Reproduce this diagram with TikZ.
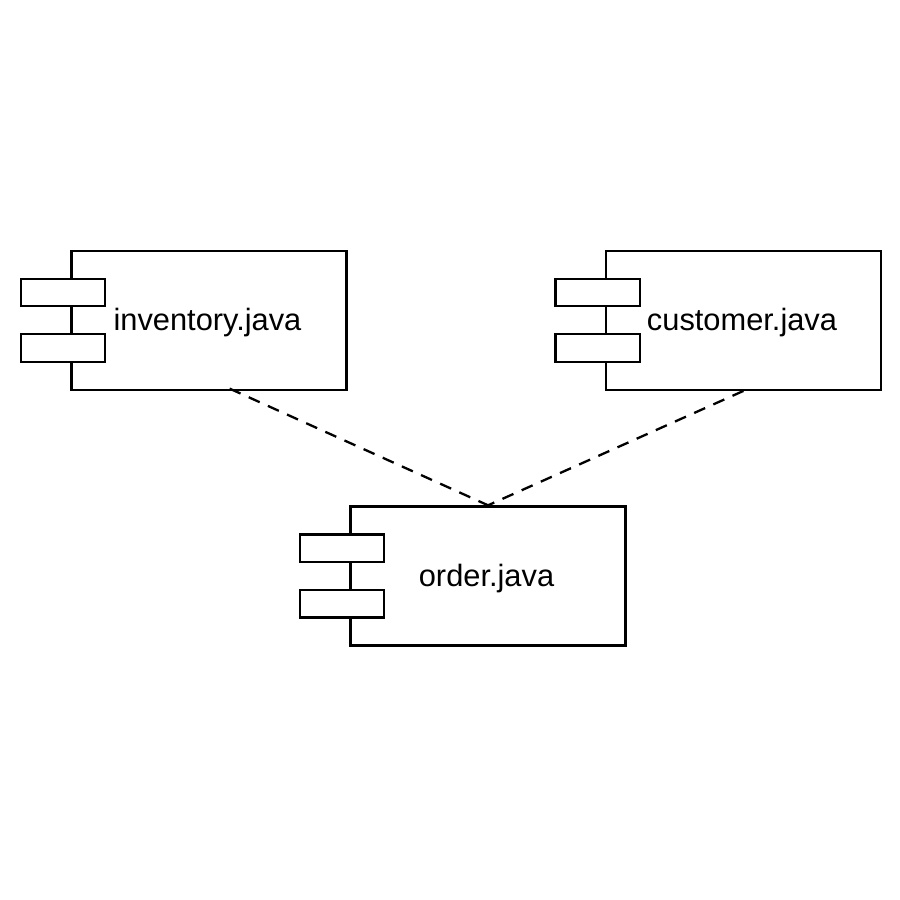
\documentclass[tikz,border=0pt]{standalone}
\usepackage{fontspec}
\setmainfont{Liberation Sans}
\newcommand{\px}{0.03514cm}
\tikzset{
  x=\px,y=-\px,
  comp/.style={draw=black,line width=2.3pt,fill=white,minimum width=275*\px,minimum height=139*\px,inner sep=0pt,anchor=north west},
  tab/.style={draw=black,line width=2.3pt,fill=white,minimum width=84.5*\px,minimum height=27.5*\px,inner sep=0pt,anchor=north west},
  lbl/.style={font=\fontsize{30.8}{34}\selectfont,inner sep=0pt,anchor=base,text=black},
  dep/.style={draw=black,line width=2.3pt,dash pattern=on 12pt off 9pt}
}
\begin{document}
\begin{tikzpicture}
\useasboundingbox (0,0) rectangle (900,900);
\fill[white] (0,0) rectangle (900,900);
\node[comp] (inv) at (70.2,249.6) {};
\node[tab] (inva) at (19.6,277.6) {};
\node[tab] (invb) at (19.6,333.1) {};
\node[lbl] (invl) at (207.5,330.5) {inventory.java};
\node[comp] (cus) at (604.8,249.6) {};
\node[tab] (cusa) at (554.2,277.6) {};
\node[tab] (cusb) at (554.2,333.1) {};
\node[lbl] (cusl) at (742,330.5) {customer.java};
\node[comp] (ord) at (349.4,505.3) {};
\node[tab] (orda) at (298.6,533.3) {};
\node[tab] (ordb) at (298.6,588.8) {};
\node[lbl] (ordl) at (486.5,586.5) {order.java};
\coordinate (invfoot) at (229.6,388.6);
\draw[dep] (invfoot) -- (ord.north);
\draw[dep] (cus.south) -- (ord.north);
\end{tikzpicture}
\end{document}
